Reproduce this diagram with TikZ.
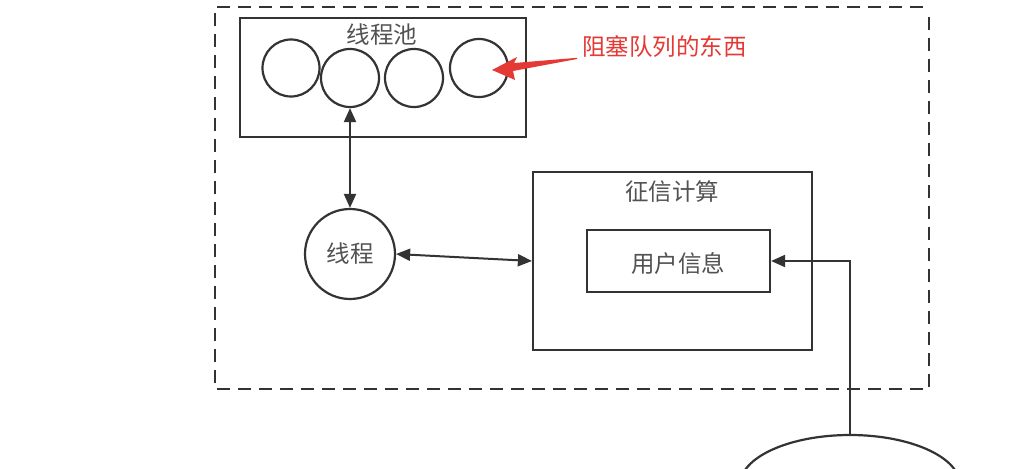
\documentclass[tikz,border=0pt]{standalone}
\usepackage{fontspec}
\setmainfont{Noto Sans CJK SC}
\usetikzlibrary{arrows.meta,shapes.geometric}
\definecolor{ink}{HTML}{333333}
\definecolor{redtxt}{HTML}{E53935}
\begin{document}
\begin{tikzpicture}[x=1pt,y=-1pt,
  box/.style={draw=ink,line width=2.2pt,inner sep=0pt},
  ball/.style={circle,draw=ink,line width=2.2pt,inner sep=0pt,minimum size=#1},
  lbl/.style={text=ink!85,font=\fontsize{23.5}{26}\selectfont,inner sep=0pt},
  conn/.style={draw=ink,line width=2pt},
  tip/.style={-{Triangle[length=14pt,width=12pt]}},
  bitip/.style={{Triangle[length=14pt,width=12pt]}-{Triangle[length=14pt,width=12pt]}}]
\clip (0,0) rectangle (1024,468);
\useasboundingbox (0,0) rectangle (1024,468);
\fill[white] (0,0) rectangle (1024,468);
% outer dashed frame
\draw[ink,line width=2.4pt,dash pattern=on 13pt off 8pt] (929,17) -- (929,389) -- (215,389) -- (215,7) -- (930,7);
% thread pool
\node[box,minimum width=286pt,minimum height=119pt] (pool) at (383,77.5) {};
\node[lbl] (pooltitle) at (382,35) {线程池};
\node[ball=57pt] (c1) at (291,68) {};
\node[ball=58pt] (c2) at (350,78) {};
\node[ball=58pt] (c3) at (414,78) {};
\node[ball=58pt] (c4) at (479,68) {};
% red note
\node[text=redtxt,font=\fontsize{23.5}{26}\selectfont,inner sep=0pt,anchor=west] (note) at (582,47) {阻塞队列的东西};
\coordinate (notefrom) at (577,59);
\coordinate (notetip) at (492,70);
\fill[redtxt] (notefrom) -- ++(0,-1.2) -- (514,63) -- (517,57) -- (notetip) -- (515,80) -- (513,71) -- cycle;
% thread
\node[ball=90pt] (th) at (350,254) {};
\node[lbl] (thlbl) at (350,254) {线程};
% credit box
\node[box,minimum width=279pt,minimum height=178pt] (credit) at (672.5,261) {};
\node[lbl] (credtitle) at (672,192) {征信计算};
\node[box,minimum width=183pt,minimum height=62pt] (user) at (678.5,261) {};
\node[lbl] (userlbl) at (678,264) {用户信息};
% bottom ellipse
\node[ellipse,draw=ink,line width=2.2pt,minimum width=220pt,minimum height=100pt] (db) at (850,485) {};
% connectors
\draw[conn,bitip] (c2.south) -- (th.north);
\draw[conn,bitip] (th.east) -- (credit.west);
\coordinate (bend) at (850,261);
\draw[conn,tip] (db.north) -- (bend) -- (user.east);
\end{tikzpicture}
\end{document}
